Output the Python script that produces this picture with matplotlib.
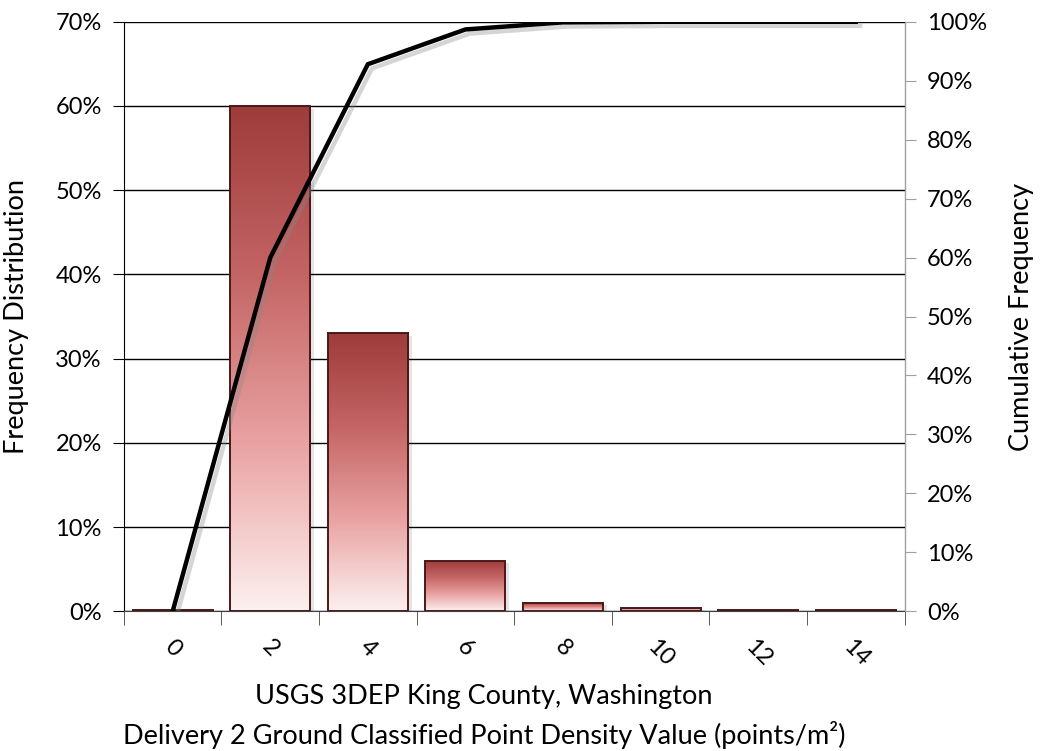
import matplotlib.pyplot as plt
import matplotlib.patheffects as pe
import numpy as np
from matplotlib.colors import LinearSegmentedColormap
from matplotlib.ticker import PercentFormatter, FixedLocator

plt.rcParams.update({
    "font.family": ["Lato", "DejaVu Sans"],
    "font.size": 17,
})

# data
density = ["0", "2", "4", "6", "8", "10", "12", "14"]
freq = [0.2, 60.0, 33.0, 6.0, 1.0, 0.4, 0.2, 0.2]          # %
cumfreq = [0.0, 60.0, 92.8, 98.7, 99.9, 100.0, 100.0, 100.0]  # %

fig = plt.figure(figsize=(10.41, 7.51), dpi=100)
ax = fig.add_axes([0.119, 0.186, 0.750, 0.785])
ax2 = ax.twinx()

x = np.arange(len(density))
width = 0.82
cmap = LinearSegmentedColormap.from_list("redfade", ["#fdf0f0", "#e9a2a2", "#c46464", "#9e3b3b"])
grad = np.linspace(0, 1, 256).reshape(-1, 1)

bars = ax.bar(x, freq, width=width, color="none", edgecolor="#4a1818", lw=1.4, zorder=3)
for b in bars:
    x0, y0 = b.get_x(), b.get_y()
    w, h = b.get_width(), b.get_height()
    im = ax.imshow(grad, cmap=cmap, aspect="auto", origin="lower",
                   extent=(x0, x0 + w, y0, y0 + h), zorder=2)
    im.set_clip_path(b)
    # soft shadow
    ax.bar(b.get_x() + w / 2 + 0.04, h, width=w, bottom=-0.3, color="#000000",
           alpha=0.10, zorder=1.5, lw=0)

ax.set_xlim(-0.5, len(density) - 0.5)
ax.set_ylim(0, 70)
ax.yaxis.set_major_locator(FixedLocator(np.arange(0, 71, 10)))
ax.yaxis.set_major_formatter(PercentFormatter(decimals=0))
ax.grid(axis="y", color="black", lw=1.0, zorder=0)
ax.set_axisbelow(True)

ax.set_xticks(x)
ax.set_xticklabels(density, rotation=-45, ha="center", va="top", fontsize=17)
ax.set_xticks(np.arange(-0.5, len(density), 1), minor=True)
ax.tick_params(axis="x", which="major", length=0, pad=18)
ax.tick_params(axis="x", which="minor", length=10, color="#404040", direction="out")
ax.tick_params(axis="y", length=8, direction="out", color="black", pad=8)

ax2.plot(x, cumfreq, color="black", lw=3.2, zorder=5,
         path_effects=[pe.SimpleLineShadow(offset=(3, -3), shadow_color="#888888", alpha=0.35),
                       pe.Normal()])
ax2.set_ylim(0, 100)
ax2.yaxis.set_major_locator(FixedLocator(np.arange(0, 101, 10)))
ax2.yaxis.set_major_formatter(PercentFormatter(decimals=0))
ax2.tick_params(axis="y", length=8, direction="out", color="#a0a0a0", pad=8)

for a in (ax, ax2):
    a.spines["top"].set_visible(False)
ax.spines["left"].set_color("black")
ax.spines["bottom"].set_color("#404040")
ax2.spines["right"].set_color("#a0a0a0")
ax2.spines["left"].set_visible(False)
ax2.spines["bottom"].set_visible(False)

ax.set_ylabel("Frequency Distribution", fontsize=19.5)
ax.yaxis.set_label_coords(-0.121, 0.5)
ax2.set_ylabel("Cumulative Frequency", fontsize=19.5)
ax2.yaxis.set_label_coords(1.134, 0.5)
ax.set_xlabel("USGS 3DEP King County, Washington\n"
              "Delivery 2 Ground Classified Point Density Value (points/m²)",
              fontsize=19.5, linespacing=1.5)
ax.xaxis.set_label_coords(0.461, -0.124)
ax.xaxis.label.set_va("top")

fig.savefig("out.png", dpi=100)
